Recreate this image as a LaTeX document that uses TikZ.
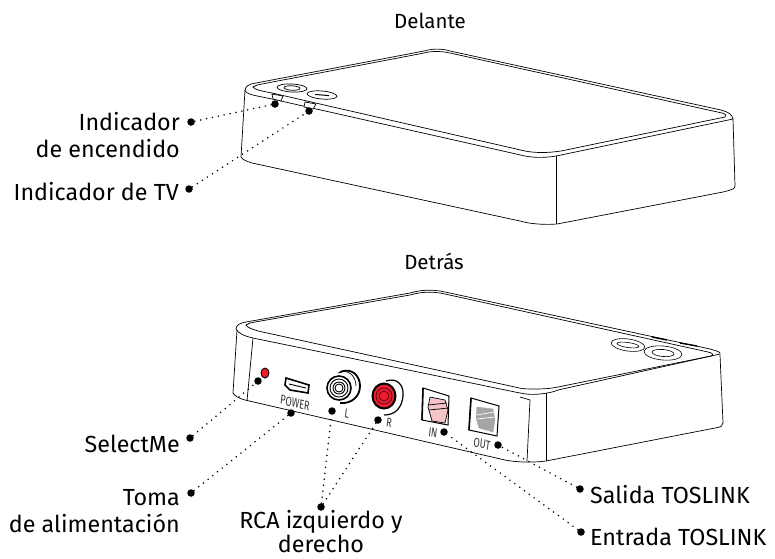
\documentclass[tikz,border=0pt]{standalone}
\usepackage{fontspec}
\setmainfont{Fira Sans}
\definecolor{ledred}{RGB}{237,28,46}
\definecolor{pinkport}{RGB}{244,196,198}
\definecolor{greyport}{RGB}{165,165,165}
\tikzset{
  lead/.style={line width=1.7pt,line cap=round,dash pattern=on 0pt off 6pt},
  pin/.style={circle,fill=black,inner sep=0pt,minimum size=7.5pt},
  body/.style={line width=0.7pt},
  heading/.style={font=\fontsize{20.5}{25}\selectfont,inner sep=0pt},
  lbl/.style={font=\fontsize{23.3}{27}\selectfont,inner sep=0pt},
  tiny/.style={font=\fontsize{13}{13}\selectfont,inner sep=0pt,xscale=0.7,text=black!80,transform shape}
}
\begin{document}
\begin{tikzpicture}[x=1pt,y=-1pt]
  \useasboundingbox (0,0) rectangle (775,558);
  % front view
  \draw[body] (245,91) .. controls (245,86) and (249,84) .. (256,83) -- (424,51) .. controls (431,49) and (441,48) .. (450,51)
     -- (721,110) .. controls (728,112) and (732,114) .. (733,119) -- (561,155) .. controls (548,158) and (535,158) .. (525,156)
     -- (272,99) .. controls (258,96) and (248,95) .. (245,91) -- cycle;
  \draw[body] (253,87) .. controls (255,85) and (258,85) .. (262,84) -- (424,53) .. controls (431,51) and (441,51) .. (450,53)
     -- (722,113) .. controls (726,114) and (727,116) .. (725,117) -- (561,151) .. controls (548,153) and (535,153) .. (525,151)
     -- (272,93) .. controls (262,91) and (255,90) .. (253,87) -- cycle;
  \draw[body] (245,90) -- (241,157) .. controls (243,160) and (246,161) .. (252,163) -- (520,221) .. controls (530,224) and (545,225) .. (557,224)
     -- (723,192) .. controls (731,190) and (735,189) .. (735,186) -- (733,119);
  \draw[body] (556,156) -- (556,224);
  \draw[body,rotate around={-3:(292,88)}] (292,88) ellipse (15pt and 4pt) (292,88) ellipse (8pt and 2.2pt);
  \draw[body,rotate around={-5:(322,95)}] (322,95) ellipse (15pt and 4pt);
  \draw[line width=1pt,rotate around={-5:(322,95)}] (315,95) -- (329,95);
  \draw[body,fill=white] (272,94) -- (283,96) -- (281,101) -- (273,99) -- cycle;
  \draw[body,fill=white] (305,102) -- (316,104) -- (313,109) -- (304,107) -- cycle;
  % back view
  \draw[body] (236,329) .. controls (236,325) and (240,323) .. (246,322) -- (410,293) .. controls (420,290) and (432,289) .. (445,292)
     -- (710,349) .. controls (717,351) and (721,352) .. (720,354) -- (558,390) .. controls (553,392) and (549,393) .. (540,394) .. controls (530,395) and (525,394) .. (515,392)
     -- (253,338) .. controls (244,336) and (238,333) .. (236,329) -- cycle;
  \draw[body] (246,325) .. controls (248,323) and (251,323) .. (255,322) -- (410,295) .. controls (420,292) and (432,291) .. (445,294)
     -- (708,352) .. controls (713,353) and (714,355) .. (711,356) -- (558,387) .. controls (553,388) and (547,389) .. (535,389) .. controls (527,389) and (522,389) .. (515,387)
     -- (258,331) .. controls (252,329) and (248,328) .. (246,325) -- cycle;
  \draw[body] (237,330) -- (233,393) .. controls (235,396) and (238,398) .. (245,400) -- (505,460) .. controls (515,462) and (530,463) .. (546,461)
     -- (715,428) .. controls (721,427) and (723,426) .. (723,423) -- (720,355);
  \draw[body] (253,338) -- (247,401);
  \draw[body] (520,397) -- (530,400) -- (527,461);
  \draw[body] (546,393) -- (546,461);
  \draw[line width=1.4pt] (652,337) -- (667,340) (680,343) -- (697,346);
  \draw[line width=0.6pt,rotate around={-8:(628,345)}] (628,345) ellipse (17pt and 6pt);
  \draw[line width=0.6pt,rotate around={-8:(628,345)}] (628,345) ellipse (11pt and 2.5pt);
  \draw[line width=0.6pt,rotate around={-5:(663,353)}] (663,353) ellipse (19pt and 7pt) (663,353) ellipse (11pt and 3.5pt);
  % ports
  \draw[line width=0.9pt,fill=ledred] (265,373) ellipse (4pt and 5pt);
  \draw[line width=1.6pt,fill=white] (286,378) -- (309,385) -- (308,393) -- (290,390) -- (285,385) -- cycle;
  \draw[line width=0.9pt] (289,384) -- (306,388);
  \draw[line width=1.8pt] (340,372) .. controls (352,367) and (360,376) .. (360,386) .. controls (360,396) and (352,404) .. (340,403);
  \draw[line width=0.7pt] (338,373) .. controls (348,368) and (356,376) .. (356,386);
  \draw[line width=1.6pt,fill=white] (339,388) circle (12pt);
  \draw[line width=0.9pt] (339,388) circle (9pt) (339,388) circle (6pt) (339,388) circle (4pt);
  \draw[line width=1.2pt] (386,381) .. controls (398,377) and (404,386) .. (403,396) .. controls (402,407) and (396,415) .. (384,415);
  \draw[line width=2pt,fill=ledred] (384,396) ellipse (11.5pt and 12.5pt);
  \draw[line width=0.7pt,black!70!ledred] (384,396) circle (8pt) (384,396) circle (5pt);
  \draw[line width=1pt] (422,420) -- (423,388) -- (449,396) -- (448,425) -- cycle;
  \draw[line width=1.6pt] (422,420) -- (423,388);
  \draw[line width=0.7pt,fill=pinkport] (430,397) -- (445,400) -- (448,410) -- (445,423) -- (432,421) -- (428,407) -- cycle;
  \draw[line width=0.7pt] (428,405) -- (447,403) (429,410) -- (448,408);
  \draw[line width=1pt] (469,430) -- (471,398) -- (499,406) -- (497,436) -- cycle;
  \draw[line width=1.6pt] (469,430) -- (471,398);
  \draw[line width=0.4pt,draw=greyport,fill=greyport] (477,407) -- (493,409) -- (495,420) -- (493,432) -- (479,428) -- (476,418) -- cycle;
  \draw[white,line width=0.7pt] (477,415) -- (494,412) (477,419) -- (495,417);
  \node[tiny,rotate=-10] (power) at (295,403) {POWER};
  \node[tiny,rotate=-10] (lname) at (347,414) {L};
  \node[tiny,rotate=-10] (rname) at (389,423) {R};
  \node[tiny,rotate=-10] (inname) at (433,433) {IN};
  \node[tiny,rotate=-10] (outname) at (482,444) {OUT};
  % titles and labels
  \node[heading] (front) at (430,21) {Delante};
  \node[heading] (back) at (434,261) {Detrás};
  \node[lbl,align=right,anchor=east] (power1) at (180,135) {Indicador\\de encendido};
  \node[lbl,anchor=east] (tvled) at (179,192) {Indicador de TV};
  \node[lbl,anchor=east] (selectme) at (180,444) {SelectMe};
  \node[lbl,align=right,anchor=east] (supply) at (180,511) {Toma\\de alimentación};
  \node[lbl,align=center,font=\fontsize{23.3}{24}\selectfont] (rca) at (321,532) {RCA izquierdo y\\derecho};
  \node[lbl,anchor=west] (tosout) at (590,495) {Salida TOSLINK};
  \node[lbl,anchor=west] (tosin) at (590,537) {Entrada TOSLINK};
  % pins
  \node[pin] (a1) at (191,122) {};
  \node[pin] (a2) at (275,104) {};
  \node[pin] (b1) at (189,189) {};
  \node[pin] (b2) at (309,111) {};
  \node[pin] (c1) at (190,438) {};
  \node[pin] (c2) at (258,381) {};
  \node[pin] (d1) at (191,493) {};
  \node[pin] (d2) at (291,413) {};
  \node[pin] (e1) at (321,507) {};
  \node[pin] (e2) at (332,411) {};
  \node[pin] (e3) at (378,420) {};
  \node[pin] (f1) at (580,489) {};
  \node[pin] (f2) at (498,445) {};
  \node[pin] (g1) at (581,532) {};
  \node[pin] (g2) at (444,432) {};
  \draw[lead] (a1) -- (a2);
  \draw[lead] (b1) -- (b2);
  \draw[lead] (c1) -- (c2);
  \draw[lead] (d1) -- (d2);
  \draw[lead] (e1) -- (e2);
  \draw[lead] (e1) -- (e3);
  \draw[lead] (f1) -- (f2);
  \draw[lead] (g1) -- (g2);
\end{tikzpicture}
\end{document}
